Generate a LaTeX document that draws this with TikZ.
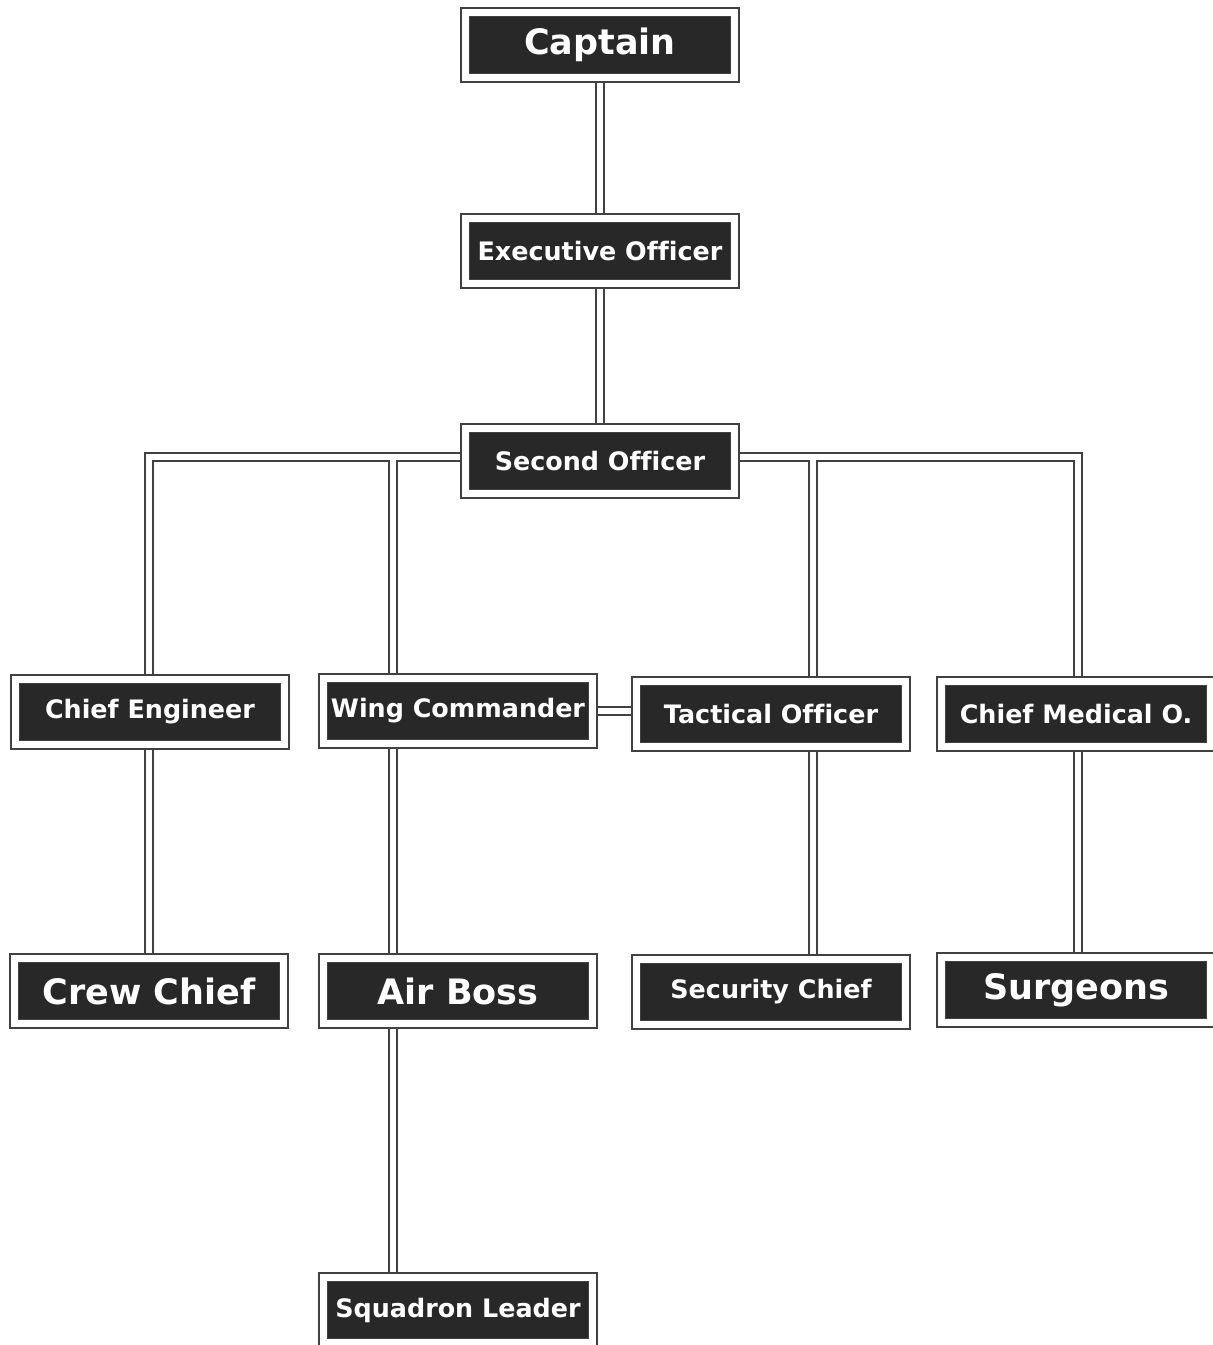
\documentclass[tikz,border=0pt]{standalone}
\usepackage{fontspec}
\setmainfont{DejaVu Sans}[Ligatures=CommonOff]
\usetikzlibrary{backgrounds}

\definecolor{boxdark}{RGB}{40,40,40}
\definecolor{linegray}{RGB}{65,65,65}

\tikzset{
	officer/.style={draw=linegray, line width=0.75pt, double=white, double distance=3.6pt,
		fill=boxdark, text=white, minimum width=134.8pt, minimum height=32.8pt, inner sep=0pt,
		font=\fontsize{12.7}{15}\selectfont\bfseries},
	officerbig/.style={officer, font=\fontsize{17.5}{20}\selectfont\bfseries},
	link/.style={draw=linegray, line width=0.75pt, double=white, double distance=3.4pt}
}

\begin{document}
\begin{tikzpicture}[x=0.5pt, y=-0.5pt]
		\useasboundingbox (0, 0) rectangle (1212, 1345);

		\node[officerbig]	(cap) at (600, 45)	{Captain};
		\node[officer]	(xo) at (600, 251)	{Executive Officer};
		\node[officer]	(so) at (600, 461)	{Second Officer};

		\node[officer]	(ce) at (150, 712)	{Chief Engineer};
		\node[officer]	(wc) at (458, 711)	{Wing Commander};
		\node[officer]	(to) at (771, 714)	{Tactical Officer};
		\node[officer]	(cmo) at (1076, 714)	{Chief Medical O.};

		\node[officerbig]	(cc) at (149, 991)	{Crew Chief};
		\node[officerbig]	(ab) at (458, 991)	{Air Boss};
		\node[officer]	(sc) at (771, 992)	{Security Chief};
		\node[officerbig]	(sur) at (1076, 990)	{Surgeons};

		\node[officer]	(sl) at (458, 1310)	{Squadron Leader};

		\coordinate (jl) at (149, 457);
		\coordinate (jw) at (393, 457);
		\coordinate (jt) at (813, 457);
		\coordinate (jr) at (1078, 457);

		\begin{scope}[on background layer]
			\fill[white] (0, 0) rectangle (1212, 1345);
			\draw[link]	(cap.center) -- (xo.center) -- (so.center)
				(jl -| so) -- (jl) -- (jl |- cc)
				(jw) -- (jw |- sl)
				(jr -| so) -- (jr) -- (jr |- sur)
				(jt) -- (jt |- sc)
				(wc.center) -- (wc.center -| to.center);
		\end{scope}
	\end{tikzpicture}
\end{document}
